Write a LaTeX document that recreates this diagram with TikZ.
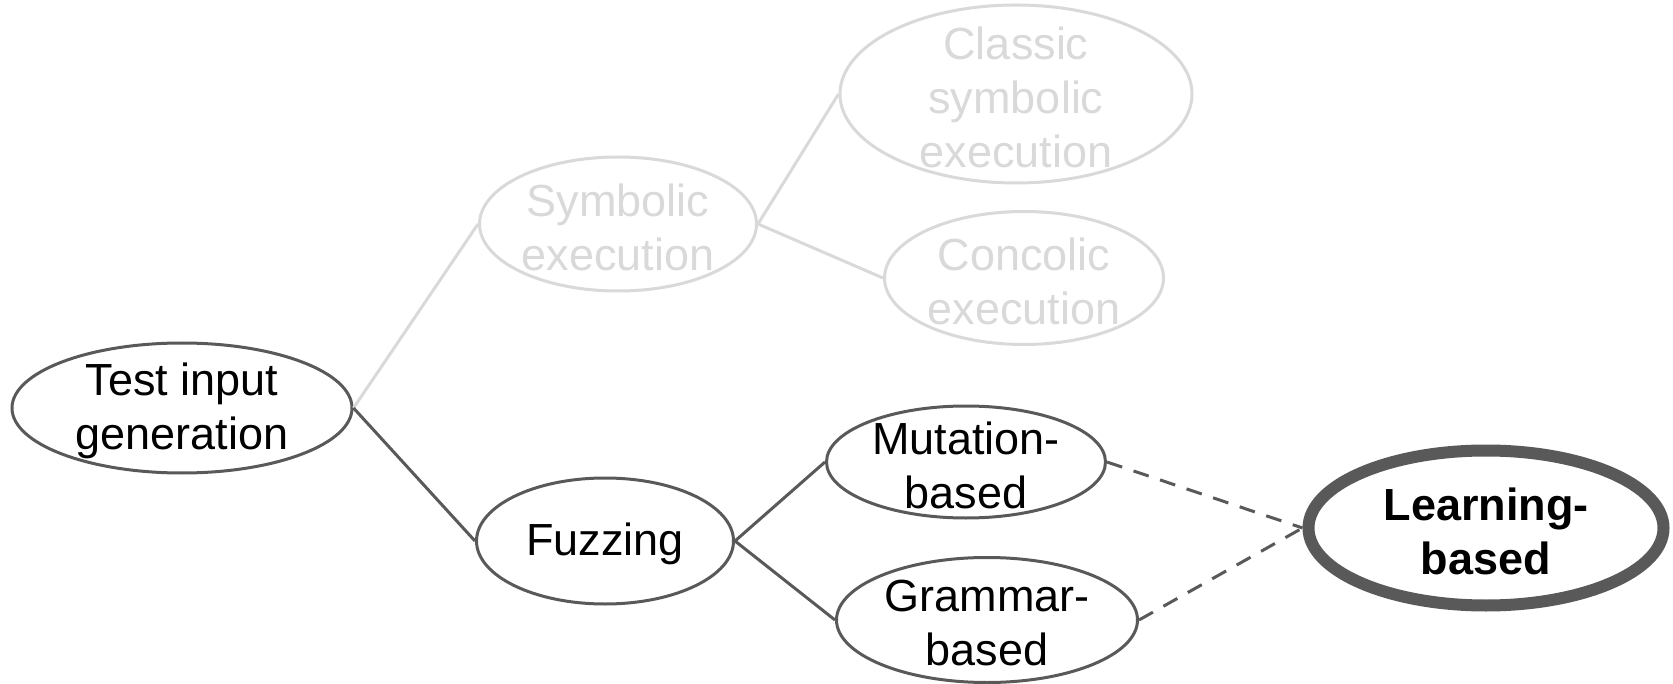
\documentclass[tikz,border=0pt]{standalone}
\usepackage{fontspec}
\setmainfont{Liberation Sans}
\usetikzlibrary{shapes.geometric}
\definecolor{darkline}{HTML}{595959}
\definecolor{faded}{HTML}{D9D9D9}
\tikzset{
  bubble/.style={ellipse, draw=darkline, line width=3pt, inner sep=0pt},
  oldbubble/.style={bubble, draw=faded},
  txt/.style={align=center, font=\fontsize{45}{54}\selectfont, yshift=-3pt},
  oldtxt/.style={txt, text=faded},
  link/.style={draw=darkline, line width=3pt},
  oldlink/.style={draw=faded, line width=3pt},
  future/.style={link, dash pattern=on 16pt off 12pt}
}
\begin{document}
\begin{tikzpicture}[x=1pt,y=-1pt]
    \useasboundingbox (0,0) rectangle (1673,684);
    % ellipses
    \node[bubble, minimum width=340pt, minimum height=130pt,
      label={[txt]center:Test input\\generation}] (tig) at (182,408) {};
    \node[oldbubble, minimum width=277pt, minimum height=134pt,
      label={[oldtxt]center:Symbolic\\execution}] (sym) at (618,224) {};
    \node[oldbubble, minimum width=352pt, minimum height=178pt,
      label={[oldtxt]center:Classic\\symbolic\\execution}] (cls) at (1016,94) {};
    \node[oldbubble, minimum width=279pt, minimum height=133pt,
      label={[oldtxt]center:Concolic\\execution}] (conc) at (1024,278) {};
    \node[bubble, minimum width=257pt, minimum height=126pt,
      label={[txt]center:Fuzzing}] (fuzz) at (605,541) {};
    \node[bubble, minimum width=279pt, minimum height=112pt,
      label={[txt]center:Mutation-\\based}] (mut) at (966,462) {};
    \node[bubble, minimum width=301pt, minimum height=125pt,
      label={[txt]center:Grammar-\\based}] (gram) at (987,620) {};
    \node[bubble, line width=12pt, minimum width=355pt, minimum height=155pt,
      label={[txt, font=\fontsize{45}{54}\selectfont\bfseries]center:Learning-\\based}] (learn) at (1486,528) {};
    % tree
    \draw[oldlink] (tig.east) -- (sym.west);
    \draw[oldlink] (sym.east) -- (cls.west);
    \draw[oldlink] (sym.east) -- (conc.west);
    \draw[link] (tig.east) -- (fuzz.west);
    \draw[link] (fuzz.east) -- (mut.west);
    \draw[link] (fuzz.east) -- (gram.west);
    \draw[future] (mut.east) -- (learn.west);
    \draw[future] (gram.east) -- (learn.west);
\end{tikzpicture}
\end{document}
